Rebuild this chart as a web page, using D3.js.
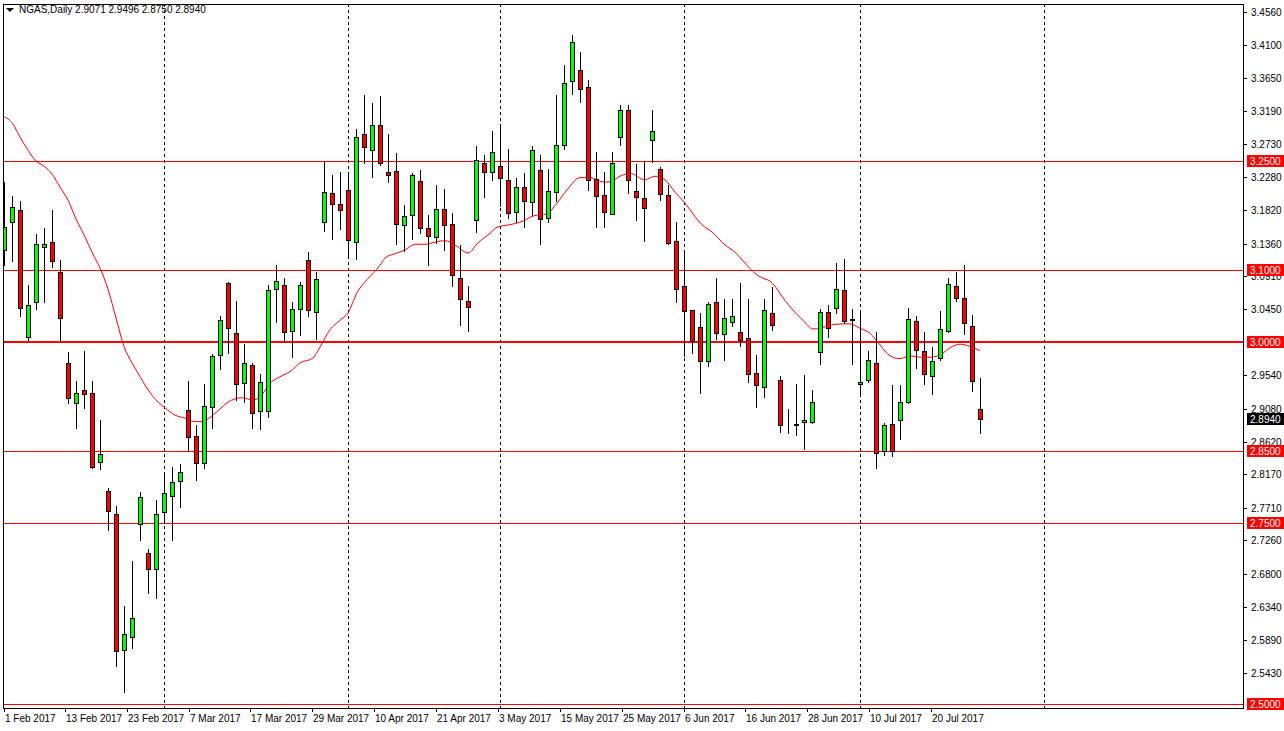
<!DOCTYPE html>
<html><head><meta charset="utf-8">
<script src="https://cdn.jsdelivr.net/npm/d3@7/dist/d3.min.js"></script>
<style>body{margin:0;background:#fff}svg{display:block}text{font-family:"Liberation Sans",Arial,sans-serif}line,rect{shape-rendering:crispEdges}</style>
</head><body><svg id="c" width="1284" height="731"></svg>
<script>
// OHLC per trading day, 1 Feb 2017 .. 21 Jul 2017
const opens=[3.127,3.166,3.182,3.007,3.055,3.131,3.138,3.097,2.971,2.916,2.934,2.930,2.834,2.794,2.762,2.575,2.592,2.749,2.709,2.687,2.765,2.787,2.808,2.906,2.870,2.833,2.910,2.982,3.082,3.012,2.943,2.968,2.905,2.905,3.073,3.079,3.015,3.046,3.113,3.041,3.166,3.206,3.191,3.210,3.138,3.287,3.265,3.300,3.235,3.236,3.162,3.175,3.222,3.158,3.145,3.184,3.163,3.088,3.057,3.169,3.247,3.235,3.243,3.224,3.180,3.214,3.193,3.238,3.171,3.207,3.272,3.360,3.376,3.352,3.225,3.203,3.177,3.283,3.320,3.209,3.199,3.279,3.239,3.203,3.140,3.077,3.044,3.021,2.974,3.055,3.011,3.028,3.014,3.005,2.957,2.938,3.040,2.948,2.890,2.887,2.890,2.890,2.986,3.041,3.047,3.072,3.032,2.942,2.948,2.971,2.850,2.887,2.892,2.917,3.029,2.988,2.953,2.978,3.015,3.077,3.061,3.022,2.9071];
const highs=[3.221,3.202,3.195,3.079,3.149,3.158,3.182,3.113,2.986,2.946,2.988,2.946,2.892,2.798,2.774,2.636,2.698,2.793,2.714,2.782,2.818,2.827,2.832,2.946,2.885,2.942,2.983,3.036,3.083,3.057,2.997,2.971,2.956,3.079,3.106,3.088,3.055,3.083,3.124,3.097,3.249,3.231,3.235,3.233,3.294,3.341,3.330,3.340,3.287,3.261,3.189,3.233,3.238,3.175,3.217,3.211,3.178,3.134,3.077,3.271,3.258,3.291,3.300,3.267,3.227,3.233,3.271,3.258,3.239,3.341,3.383,3.424,3.401,3.362,3.262,3.235,3.262,3.327,3.327,3.246,3.250,3.320,3.242,3.217,3.166,3.124,3.044,3.040,3.055,3.088,3.059,3.059,3.082,3.059,2.982,3.059,3.076,2.953,2.908,2.942,2.954,2.934,3.046,3.051,3.109,3.115,3.046,3.044,2.988,3.014,2.888,2.941,2.941,3.047,3.036,3.014,2.993,3.043,3.088,3.097,3.106,3.037,2.9496];
const lows=[3.106,3.112,3.036,3.001,3.046,3.055,3.104,3.001,2.916,2.881,2.909,2.826,2.825,2.741,2.552,2.517,2.577,2.727,2.654,2.647,2.750,2.727,2.772,2.850,2.810,2.826,2.881,2.963,2.985,2.920,2.917,2.881,2.880,2.897,3.028,3.000,2.979,3.010,3.036,3.004,3.153,3.142,3.156,3.117,3.115,3.247,3.228,3.245,3.221,3.135,3.126,3.142,3.151,3.106,3.137,3.127,3.077,3.024,3.015,3.152,3.200,3.224,3.188,3.171,3.166,3.159,3.175,3.135,3.166,3.195,3.267,3.343,3.332,3.210,3.159,3.159,3.177,3.272,3.206,3.169,3.140,3.249,3.196,3.135,3.055,2.981,2.985,2.930,2.967,3.004,2.975,3.022,2.994,2.945,2.910,2.924,3.017,2.876,2.874,2.872,2.852,2.888,2.970,3.007,3.040,3.026,2.970,2.930,2.945,2.826,2.844,2.843,2.866,2.916,2.964,2.942,2.928,2.975,3.014,3.057,3.011,2.932,2.8750];
const closes=[3.159,3.187,3.047,3.051,3.135,3.135,3.112,3.033,2.923,2.930,2.928,2.828,2.845,2.767,2.573,2.597,2.619,2.786,2.686,2.762,2.792,2.807,2.821,2.869,2.833,2.912,2.981,3.030,3.019,2.942,2.971,2.902,2.945,3.072,3.084,3.014,3.046,3.079,3.044,3.087,3.207,3.191,3.182,3.141,3.283,3.269,3.300,3.247,3.231,3.163,3.174,3.231,3.158,3.146,3.184,3.162,3.093,3.059,3.048,3.251,3.235,3.262,3.227,3.178,3.214,3.195,3.265,3.170,3.209,3.272,3.358,3.414,3.349,3.224,3.202,3.180,3.247,3.320,3.224,3.200,3.185,3.291,3.204,3.137,3.073,3.043,3.001,2.974,3.053,3.012,3.033,3.036,3.003,2.956,2.941,3.044,3.024,2.885,2.890,2.885,2.892,2.917,3.041,3.019,3.073,3.029,3.030,2.945,2.975,2.847,2.885,2.850,2.917,3.032,2.989,2.956,2.974,3.018,3.080,3.061,3.026,2.946,2.8940];
// moving average line (bar position, price)
const maPos=[-0.125,1.125,2,3,4,5,6,7,8,9,10,11,12,13,14,15,16,16.75,18,19.25,20.125,21.375,22.625,23.875,24.75,26,27.25,28,29.75,31.125,32,33.25,34.5,35.75,37,38.625,39.5,40.75,42,43,44.125,45.375,47,47.625,48.875,50.125,51.375,52.625,53.875,55.125,56.375,58,59.25,60.5,61.75,63.25,64.875,66.125,67.875,69.125,70.375,72,73.25,74.875,75.75,77,78.25,80.125,81.375,82.625,83.875,85.125,86.375,87.25,88.5,90.125,91.375,92.625,93.875,94.5,96,97.375,98.625,99.875,101.125,102,103.625,104.875,105.75,107,108.25,109.5,110.75,112,113.25,114.5,115.75,117,118.25,119.5,120.75,122];
const maVal=[3.312,3.301,3.283,3.265,3.250,3.243,3.232,3.214,3.196,3.170,3.148,3.124,3.102,3.073,3.033,2.994,2.971,2.957,2.934,2.917,2.909,2.899,2.895,2.890,2.890,2.898,2.910,2.917,2.923,2.920,2.924,2.943,2.952,2.959,2.971,2.978,2.993,3.017,3.030,3.040,3.068,3.086,3.106,3.116,3.122,3.127,3.135,3.135,3.138,3.140,3.134,3.123,3.137,3.148,3.159,3.162,3.167,3.174,3.177,3.192,3.210,3.227,3.227,3.221,3.221,3.229,3.233,3.224,3.229,3.224,3.207,3.192,3.173,3.162,3.152,3.134,3.124,3.109,3.095,3.090,3.082,3.061,3.044,3.030,3.018,3.019,3.024,3.025,3.025,3.019,3.012,2.996,2.981,2.977,2.981,2.979,2.979,2.982,2.992,2.997,2.994,2.988];
const yTicks=[3.4560,3.4100,3.3650,3.3190,3.2730,3.2280,3.1820,3.1360,3.0910,3.0450,2.9540,2.9080,2.8620,2.8170,2.7710,2.7260,2.6800,2.6340,2.5890,2.5430];
const levels=[3.25,3.10,3.00,2.85,2.75,2.50];
const levelWidth=[1,1,2,1,1,1];
const xLabels=["1 Feb 2017","13 Feb 2017","23 Feb 2017","7 Mar 2017","17 Mar 2017","29 Mar 2017","10 Apr 2017","21 Apr 2017","3 May 2017","15 May 2017","25 May 2017","6 Jun 2017","16 Jun 2017","28 Jun 2017","10 Jul 2017","20 Jul 2017"];
const xLabelPos=[0,7.625,15.375,23.125,30.75,38.5,46.25,54,61.75,69.5,77.25,85,92.625,100.375,108.125,115.875];
const monthStarts=[20,43,62,85,107,130];
const title="NGAS,Daily  2.9071 2.9496 2.8750 2.8940";

const svg=d3.select("#c");
const L=3,R=1243,T=4,B=708;
const x=d3.scaleLinear().domain([0,1]).range([4,12]);
const y=d3.scaleLinear().domain([2.5,3.25]).range([704,161]);
const px=v=>Math.round(x(v))+0.5;
const py=v=>Math.round(y(v))+0.5;

svg.append("rect").attr("x",0).attr("y",0).attr("width",1284).attr("height",731).attr("fill","#fff");
const g=svg.append("g");
g.append("clipPath").attr("id","cl").append("rect").attr("x",L).attr("y",T).attr("width",R-L).attr("height",B-T);
const plot=g.append("g").attr("clip-path","url(#cl)");

plot.selectAll(".ms").data(monthStarts).enter().append("line")
 .attr("x1",d=>px(d)).attr("x2",d=>px(d)).attr("y1",T).attr("y2",B)
 .attr("stroke","#000").attr("stroke-dasharray","3,3").attr("stroke-width",1);

plot.selectAll(".lv").data(levels).enter().append("line")
 .attr("x1",L).attr("x2",R).attr("y1",(d,i)=>levelWidth[i]==2?Math.round(y(d)):py(d)).attr("y2",(d,i)=>levelWidth[i]==2?Math.round(y(d)):py(d))
 .attr("stroke","#ff0000").attr("stroke-width",(d,i)=>levelWidth[i]);

const maPts=maPos.map((p,i)=>[p,maVal[i]]);
plot.append("path").datum(maPts)
 .attr("d",d3.line().x(d=>x(d[0])).y(d=>y(d[1])).curve(d3.curveMonotoneX))
 .attr("fill","none").attr("stroke","#ff0000").attr("stroke-width",1);

const bars=opens.map((o,i)=>({i,o,h:highs[i],l:lows[i],c:closes[i]}));
const cg=plot.selectAll(".cd").data(bars).enter().append("g");
cg.append("line").attr("x1",d=>px(d.i)).attr("x2",d=>px(d.i))
 .attr("y1",d=>Math.round(y(d.h))).attr("y2",d=>Math.round(y(d.l))+1).attr("stroke","#000");
cg.append("rect")
 .attr("x",d=>Math.round(x(d.i))-2+0.5)
 .attr("y",d=>Math.round(y(Math.max(d.o,d.c)))+0.5)
 .attr("width",4)
 .attr("height",d=>Math.max(0,Math.round(y(Math.min(d.o,d.c)))-Math.round(y(Math.max(d.o,d.c)))))
 .attr("fill",d=>d.c>d.o?"#00ff00":"#ff0000").attr("stroke","#000");

g.append("rect").attr("x",L+0.5).attr("y",T+0.5).attr("width",R-L).attr("height",B-T).attr("fill","none").attr("stroke","#000");

const ya=g.append("g");
ya.selectAll("line").data(yTicks).enter().append("line")
 .attr("x1",R).attr("x2",R+4).attr("y1",d=>py(d)).attr("y2",d=>py(d)).attr("stroke","#000");
ya.selectAll("text").data(yTicks).enter().append("text")
 .attr("x",1251).attr("y",d=>y(d)+4).attr("font-size",10).attr("fill","#000").text(d=>d.toFixed(4));
const lb=g.append("g");
lb.selectAll("rect").data(levels).enter().append("rect")
 .attr("x",1247).attr("y",d=>Math.round(y(d))-6).attr("width",37).attr("height",12).attr("fill","#ff0000");
lb.selectAll("text").data(levels).enter().append("text")
 .attr("x",1250).attr("y",d=>y(d)+4).attr("font-size",10).attr("fill","#fff").text(d=>d.toFixed(4));
const last=closes[closes.length-1];
g.append("rect").attr("x",1247).attr("y",Math.round(y(last))-6).attr("width",37).attr("height",12).attr("fill","#000");
g.append("text").attr("x",1250).attr("y",y(last)+4).attr("font-size",10).attr("fill","#fff").text(last.toFixed(4));

const xa=g.append("g");
xa.selectAll("line").data(xLabelPos).enter().append("line")
 .attr("x1",d=>px(d)).attr("x2",d=>px(d)).attr("y1",B).attr("y2",B+4).attr("stroke","#000");
xa.selectAll("text").data(xLabels).enter().append("text")
 .attr("x",(d,i)=>x(xLabelPos[i])+1).attr("y",722).attr("font-size",10).attr("fill","#000").text(d=>d);

g.append("path").attr("d","M6,8 L14,8 L10,12 Z").attr("fill","#000");
g.append("text").attr("x",19).attr("y",13).attr("font-size",10).attr("fill","#000").text(title);
</script></body></html>
